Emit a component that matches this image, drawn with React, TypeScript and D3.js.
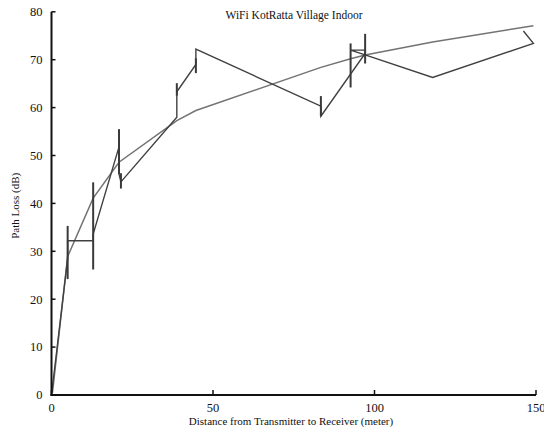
import React from "react";
import * as d3 from "d3";

const W = 544;
const H = 438;

const xTicks = [0, 50, 100, 150];
const yTicks = [0, 10, 20, 30, 40, 50, 60, 70, 80];

// Measured path loss polyline (distance m, dB) in drawing order
const measuredX = [0, 5.0, 5.0, 12.9, 12.9, 20.9, 20.9, 21.5, 38.8, 38.8, 44.7, 44.7, 83.4, 83.4, 97.1, 97.1, 92.6, 97.1, 118.0, 149.2, 146.1];
const measuredY = [0, 28.5, 32.2, 32.2, 33.6, 51.8, 46.1, 44.5, 58.0, 63.3, 69.0, 72.2, 60.3, 58.2, 71.3, 72.0, 72.0, 71.0, 66.3, 73.4, 76.0];

// Error bars (distance, low, high)
const errX = [5.0, 12.9, 20.9, 21.5, 38.8, 44.7, 83.4, 92.6, 97.1];
const errLow = [24.2, 26.2, 46.1, 43.1, 62.5, 67.2, 58.2, 64.2, 69.2];
const errHigh = [35.3, 44.4, 55.5, 46.3, 65.1, 70.3, 62.4, 73.4, 75.4];

// Model fit curve
const modelX = [0.3, 5.0, 12.9, 20.9, 38.8, 44.7, 83.4, 92.6, 97.1, 118.0, 149.2];
const modelY = [0.5, 28.9, 41.1, 48.6, 57.3, 59.4, 68.4, 70.2, 71.0, 73.7, 77.1];

export default function App() {
  const x = d3.scaleLinear().domain([0, 150]).range([51.5, 536]);
  const y = d3.scaleLinear().domain([0, 80]).range([395, 11.8]);

  const line = d3
    .line<[number, number]>()
    .x((d) => x(d[0]))
    .y((d) => y(d[1]));

  const measured: [number, number][] = measuredX.map((v, i) => [v, measuredY[i]]);
  const model: [number, number][] = modelX.map((v, i) => [v, modelY[i]]);

  const font = "'Liberation Serif', 'Times New Roman', serif";

  return (
    <svg
      width={W}
      height={H}
      style={{ position: "absolute", left: 0, top: 0, background: "#fff" }}
    >
      <rect x={0} y={0} width={W} height={H} fill="#fff" />
      {/* model curve */}
      <path d={line(model) || ""} fill="none" stroke="#737373" strokeWidth={1.5} />
      {/* measured line */}
      <path d={line(measured) || ""} fill="none" stroke="#404040" strokeWidth={1.4} />
      {/* error bars */}
      {errX.map((v, i) => (
        <line
          key={i}
          x1={x(v)}
          x2={x(v)}
          y1={y(errLow[i])}
          y2={y(errHigh[i])}
          stroke="#3a3a3a"
          strokeWidth={2}
        />
      ))}
      {/* axes */}
      <line x1={x(0)} x2={x(0)} y1={y(80)} y2={y(0) + 1} stroke="#111" strokeWidth={2} />
      <line x1={x(0) - 1} x2={x(150)} y1={y(0)} y2={y(0)} stroke="#111" strokeWidth={2} />
      {yTicks.map((t) => (
        <g key={"y" + t}>
          <line x1={x(0)} x2={x(0) + 4} y1={y(t)} y2={y(t)} stroke="#111" strokeWidth={1.5} />
          <text
            x={x(0) - 9}
            y={y(t)}
            dy="0.35em"
            textAnchor="end"
            fontFamily={font}
            fontSize={12.5}
            fill="#111"
          >
            {t}
          </text>
        </g>
      ))}
      {xTicks.map((t) => (
        <g key={"x" + t}>
          <line x1={x(t)} x2={x(t)} y1={y(0)} y2={y(0) - 5} stroke="#111" strokeWidth={1.5} />
          <text
            x={x(t)}
            y={y(0) + 17}
            textAnchor="middle"
            fontFamily={font}
            fontSize={12.5}
            fill="#111"
          >
            {t}
          </text>
        </g>
      ))}
      <text
        x={294}
        y={19}
        textAnchor="middle"
        fontFamily={font}
        fontSize={11.5}
        fill="#111"
      >
        WiFi KotRatta Village Indoor
      </text>
      <text
        x={291}
        y={425}
        textAnchor="middle"
        fontFamily={font}
        fontSize={11}
        fill="#111"
      >
        Distance from Transmitter to Receiver (meter)
      </text>
      <text
        transform={`translate(19, ${y(39.5)}) rotate(-90)`}
        textAnchor="middle"
        fontFamily={font}
        fontSize={11}
        fill="#111"
      >
        Path Loss (dB)
      </text>
    </svg>
  );
}
